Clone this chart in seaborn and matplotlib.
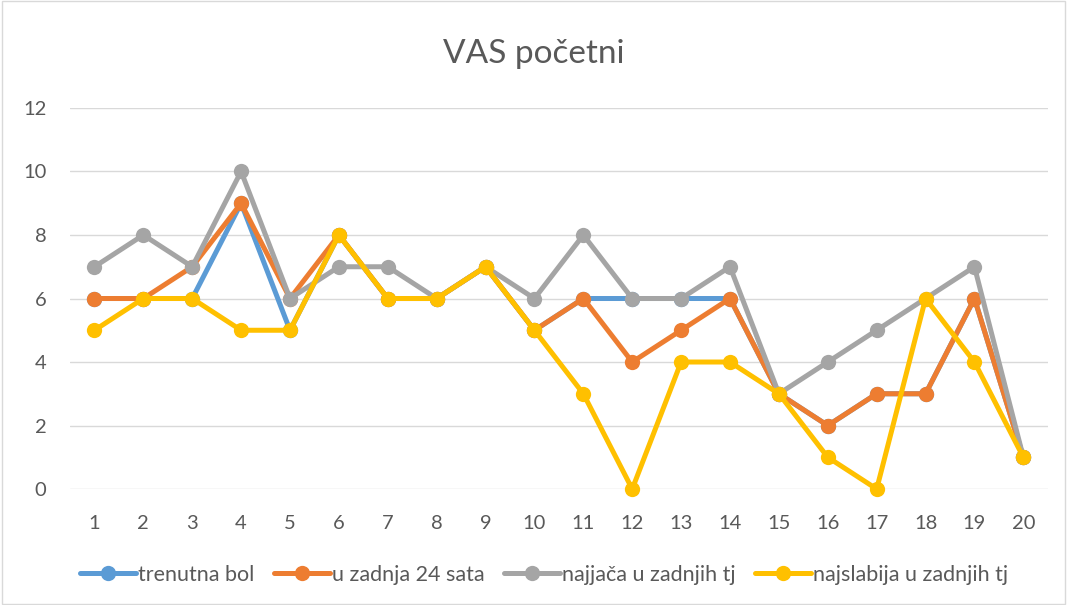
import matplotlib
matplotlib.use("Agg")
import matplotlib.pyplot as plt
import seaborn as sns
import pandas as pd
from matplotlib.patches import Rectangle

categories = list(range(1, 21))
trenutna = [6, 6, 6, 9, 5, 8, 6, 6, 7, 5, 6, 6, 6, 6, 3, 2, 3, 3, 6, 1]
zadnja24 = [6, 6, 7, 9, 6, 8, 6, 6, 7, 5, 6, 4, 5, 6, 3, 2, 3, 3, 6, 1]
najjaca = [7, 8, 7, 10, 6, 7, 7, 6, 7, 6, 8, 6, 6, 7, 3, 4, 5, 6, 7, 1]
najslabija = [5, 6, 6, 5, 5, 8, 6, 6, 7, 5, 3, 0, 4, 4, 3, 1, 0, 6, 4, 1]
series_names = ["trenutna bol", "u zadnja 24 sata", "najjača u zadnjih tj", "najslabija u zadnjih tj"]
colors = ["#5B9BD5", "#ED7D31", "#A5A5A5", "#FFC000"]

sns.set_theme(style="white")
plt.rcParams['font.family'] = ['Lato', 'DejaVu Sans']

fig = plt.figure(figsize=(10.67, 6.05), dpi=100)
ax = fig.add_axes([0.0656, 0.1917, 0.9164, 0.6298])

for name, vals, col in zip(series_names, [trenutna, zadnja24, najjaca, najslabija], colors):
    df = pd.DataFrame({"x": categories, "y": vals})
    sns.lineplot(data=df, x="x", y="y", ax=ax, color=col, linewidth=3.6,
                 marker="o", markersize=11, markeredgewidth=0, label=name,
                 clip_on=False)

ax.set_xlim(0.5, 20.5)
ax.set_ylim(0, 12)
ax.set_yticks(range(0, 13, 2))
ax.set_xticks(categories)
ax.grid(axis="y", color="#D9D9D9", linewidth=1)
ax.set_axisbelow(True)
for s in ax.spines.values():
    s.set_visible(False)
ax.set_xlabel("")
ax.set_ylabel("")
ax.tick_params(axis="both", colors="#595959", labelsize=14.5, length=0)
ax.tick_params(axis="x", pad=19)
ax.tick_params(axis="y", pad=17)

fig.text(0.5, 0.91, "VAS početni", ha="center", va="center", fontsize=24, color="#595959")

handles, labels = ax.get_legend_handles_labels()
ax.get_legend().remove()
fig.legend(handles, labels, loc="center", bbox_to_anchor=(0.51, 0.05), ncol=4,
           frameon=False, fontsize=15.5, labelcolor="#595959", handlelength=2.6,
           handletextpad=0.1, columnspacing=0.9)

fig.patches.append(Rectangle((0.002, 0.002), 0.996, 0.996, transform=fig.transFigure,
                             fill=False, edgecolor="#D9D9D9", linewidth=1))

fig.savefig("out.png", dpi=100)
